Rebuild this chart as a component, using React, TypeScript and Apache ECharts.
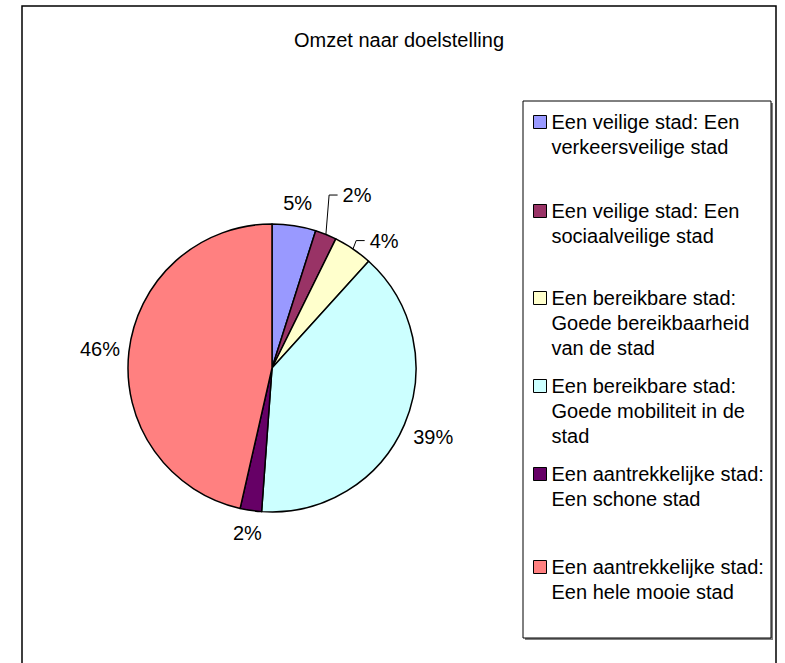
import React, { useEffect, useRef } from 'react';
import * as echarts from 'echarts';

// ---- data ----
const categories = [
  'Een veilige stad: Een verkeersveilige stad',
  'Een veilige stad: Een sociaalveilige stad',
  'Een bereikbare stad: Goede bereikbaarheid van de stad',
  'Een bereikbare stad: Goede mobiliteit in de stad',
  'Een aantrekkelijke stad: Een schone stad',
  'Een aantrekkelijke stad: Een hele mooie stad',
];
const legendLines = [
  ['Een veilige stad: Een', 'verkeersveilige stad'],
  ['Een veilige stad: Een', 'sociaalveilige stad'],
  ['Een bereikbare stad:', 'Goede bereikbaarheid', 'van de stad'],
  ['Een bereikbare stad:', 'Goede mobiliteit in de', 'stad'],
  ['Een aantrekkelijke stad:', 'Een schone stad'],
  ['Een aantrekkelijke stad:', 'Een hele mooie stad'],
];
const values = [4.9, 2.4, 4.4, 39.4, 2.4, 46.4];
const colors = ['#9999FF', '#993366', '#FFFFCC', '#CCFFFF', '#660066', '#FF8080'];
const titleText = 'Omzet naar doelstelling';

// ---- layout / style ----
const FONT = '"Liberation Sans", Arial, Helvetica, sans-serif';
const CX = 272;
const CY = 368;
const R = 144;
const LABEL_GAP = 7.8;
const LABEL_HALF_H = 13;
const LABEL_NUDGE: Record<number, [number, number]> = { 1: [21.7, -16], 2: [16.1, 13.7] };
const LEGEND_LEFT = 533;
const LEGEND_ROW_CENTERS = [122, 211, 298, 386, 474, 567];
const LINE_H = 25;

const total = values.reduce((a, b) => a + b, 0);
function midAngle(i: number): number {
  let cum = 0;
  for (let j = 0; j < i; j++) cum += values[j];
  return ((cum + values[i] / 2) / total) * Math.PI * 2;
}

export default function App() {
  const ref = useRef<HTMLDivElement>(null);
  useEffect(() => {
    document.body.style.margin = '0';
    if (!ref.current) return;
    const chart = echarts.init(ref.current, undefined, { renderer: 'svg' });

    const legends = categories.map((name, i) => {
      const n = legendLines[i].length;
      return {
        data: [name],
        orient: 'vertical',
        left: LEGEND_LEFT,
        top: LEGEND_ROW_CENTERS[i] - ((2 * n - 1) * LINE_H) / 2,
        padding: 0,
        icon: 'rect',
        itemWidth: 13,
        itemHeight: 13,
        selectedMode: false,
        // leading empty lines keep the icon level with the first text line
        formatter: () => '\n'.repeat(n - 1) + legendLines[i].join('\n'),
        itemStyle: { borderColor: '#000', borderWidth: 1 },
        textStyle: {
          fontFamily: FONT,
          fontSize: 20,
          lineHeight: LINE_H,
          color: '#000',
        },
      };
    });

    chart.setOption({
      animation: false,
      backgroundColor: '#fff',
      title: {
        text: titleText,
        left: 399,
        top: 30,
        padding: 0,
        textAlign: 'center',
        textStyle: { fontFamily: FONT, fontSize: 20, fontWeight: 'normal', color: '#000' },
      },
      graphic: [
        {
          type: 'rect',
          z: -10,
          shape: { x: 22, y: 6, width: 754, height: 700 },
          style: { fill: '#fff', stroke: '#000', lineWidth: 1.5 },
        },
        {
          type: 'rect',
          z: -9,
          shape: { x: 525, y: 103, width: 248, height: 537 },
          style: { fill: '#808080' },
        },
        {
          type: 'rect',
          z: -8,
          shape: { x: 523, y: 101, width: 248, height: 537 },
          style: { fill: '#fff', stroke: '#000', lineWidth: 1 },
        },
      ],
      legend: legends,
      series: [
        {
          type: 'pie',
          center: [CX, CY],
          radius: R,
          startAngle: 90,
          clockwise: true,
          avoidLabelOverlap: false,
          itemStyle: { borderColor: '#000', borderWidth: 1.5 },
          emphasis: { disabled: true },
          label: {
            show: true,
            position: 'outside',
            fontFamily: FONT,
            fontSize: 20,
            color: '#000',
            formatter: (p: any) => Math.round(p.percent) + '%',
          },
          labelLine: { show: false, lineStyle: { color: '#000', width: 1 } },
          labelLayout: (p: any) => {
            const i = p.dataIndex;
            const th = midAngle(i);
            const hw = p.labelRect.width / 2;
            const ext = Math.abs(hw * Math.sin(th)) + Math.abs(LABEL_HALF_H * Math.cos(th));
            const d = R + LABEL_GAP + ext;
            const nudge = LABEL_NUDGE[i] || [0, 0];
            const x = CX + d * Math.sin(th) + nudge[0];
            const y = CY - d * Math.cos(th) + nudge[1];
            const out: any = { x, y, align: 'center', verticalAlign: 'middle' };
            if (LABEL_NUDGE[i]) {
              const left = x - hw;
              out.labelLinePoints = [
                [CX + R * Math.sin(th), CY - R * Math.cos(th)],
                [left - 13.5, y],
                [left - 5, y],
              ];
            }
            return out;
          },
          data: categories.map((name, i) => ({
            name,
            value: values[i],
            itemStyle: { color: colors[i] },
            labelLine: { show: !!LABEL_NUDGE[i] },
          })),
        },
      ],
    });
    return () => chart.dispose();
  }, []);
  return <div ref={ref} style={{ width: 785, height: 663 }} />;
}
